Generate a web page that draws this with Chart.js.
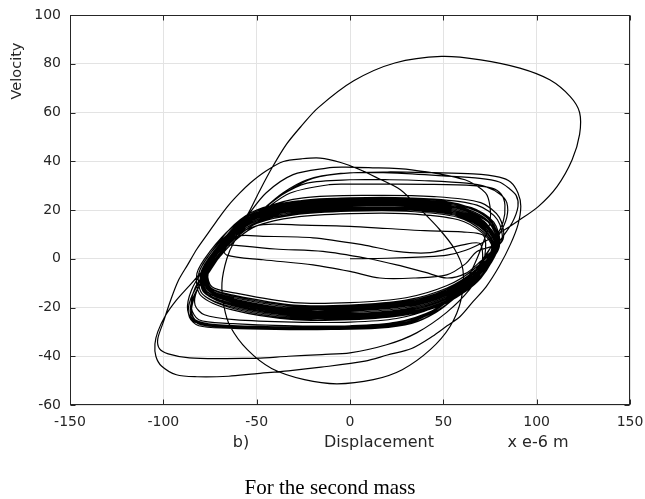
<!DOCTYPE html>
<html>
<head>
<meta charset="utf-8">
<script src="https://cdn.jsdelivr.net/npm/chart.js@4.4.1/dist/chart.umd.min.js"></script>
<style>
  html, body { margin: 0; padding: 0; background: #fff; }
  #wrap { width: 645px; height: 499px; }
</style>
</head>
<body>
<div id="wrap"><canvas id="c" width="645" height="499"></canvas></div>
<script>
// ---- axis ticks ----
const xTicks = [-150, -100, -50, 0, 50, 100, 150];
const yTicks = [-60, -40, -20, 0, 20, 40, 60, 80, 100];

// ---- texts ----
const yTitle = "Velocity";
const xTitleParts = ["b)", "Displacement", "x e-6 m"];
const caption = "For the second mass";

// ---- trajectory (displacement, velocity) ----
const startPath = [[0,0],[20,0.2],[40,0.8],[52,1.5],[62,3.5],[72,7],[82,11.5],[90,15.5]];

const bigLoop = [[101,21.5],[111,29.7],[119,40.6],[123,51],[123,60],[118,66.5],[107,73.4],[91,78.2],[70,81.6],
  [49,83],[24,80.3],[2,73],[-17,62],[-26,54.5],[-34,47],[-42,37],[-49,27],[-55,18],[-63,10],[-71,2],[-79,-5],
  [-86,-11],[-93,-17],[-99,-23.5],[-103,-30],[-104.5,-35],[-104,-40],[-101,-44],[-93,-47.6],[-82,-48.4],
  [-65,-48.2],[-51,-47.2],[-33,-46],[-15.5,-44.5],[8,-42],[20,-39.5],[33,-36.8],[44,-31.9],[52,-27.5],
  [59,-23.7],[66,-17.5],[73,-11.4],[80,-3]];

const loop35 = [[86,6],[90,14],[91.5,21.5],[90,27],[86,31.5],[80,33.5],[66,34.8],[45,35.3],[20,35.6],[-5,35],
  [-23,32.4],[-36,27],[-47,20],[-57,13],[-66,5],[-74,-3],[-81,-10],[-86,-18],[-86,-24],[-81,-27.5],[-65,-28.5],
  [-40,-29],[-10,-29],[15,-28.5],[33,-26.5],[46,-22],[56,-16],[64,-9],[71,-1]];

const loop30 = [[77,7],[82,15],[83,22],[81,26.5],[76,29],[66,30],[45,30.5],[20,30.6],[0,30.6],[-11,30.4],
  [-32,27],[-45,20.5],[-55,14],[-62,7],[-66,0],[-68.6,-10],[-67.5,-19.6]];

const circleLoop = [[-64,-28],[-55,-37.3],[-42,-45],[-24.4,-49.6],[-7,-51.3],[12.5,-49.6],[28,-45.5],[43,-37.3],
  [53.6,-27.8],[59.5,-16.8],[60.5,-4.5],[56,4],[48,12],[38,20],[27,28.3],[15,33],[5.4,36.5],[-5,39.5],
  [-16,41.3],[-26,41],[-35.7,39.9],[-45,36],[-53.6,31],[-59,27],[-65,22],[-70,17],[-76,10.5],[-82,4],
  [-87,-2.5],[-92,-9],[-96,-16.8],[-100,-26],[-103,-33],[-102,-37],[-97.4,-39],[-86,-40.7],[-68.6,-41],
  [-50,-40.8],[-33,-40],[-15,-39.3],[0,-38.6],[19.6,-35.3],[35.7,-30.4],[51.8,-22],[64,-12.7],[72,-3]];

const loop34 = [[80,7],[87,15],[90,21.5],[89,26],[85,29],[80,31.5],[69.6,33],[50,34],[21.4,35.2],[0,35.2],
  [-20,33],[-35,27],[-47,20],[-57,13],[-65,6],[-73,-2],[-80,-10],[-85,-18],[-85,-24],[-80,-27],[-65,-28],
  [-40,-28.5],[-10,-28.5],[15,-28],[33,-26],[46,-21],[56,-15],[63,-8],[68,0]];

const loop37 = [[72,8],[75,15],[75,21.5],[72.6,27],[61.6,32.4],[33,36.5],[10,37.4],[-4.5,37.6],[-12.5,37.2],
  [-30.5,34.5],[-45,27],[-55,17.5],[-63,9],[-71,1],[-78,-7],[-83,-15],[-85,-22],[-82,-26],[-70,-27.5],
  [-45,-28.2],[-15,-28.3],[15,-27.5],[35,-25],[48,-20],[58,-13],[66,-6],[73,2]];

const loop32 = [[80,10],[84,17],[84,23],[80.4,26.5],[73,29.5],[62.5,31],[40,32],[21.4,32.4],[0,32.4],[-23,31],
  [-38,25.5],[-50,18],[-59,11],[-67,4],[-75,-5],[-82,-13],[-85,-20],[-83,-25],[-72,-27],[-45,-27.8],
  [-15,-28],[15,-27],[35,-24.5],[48,-19.5],[58,-13],[66,-6],[73,1]];

const midLoopA = [[82,8],[80,17],[70,23],[45,25.5],[10,26],[-25,25],[-45,21],[-57,14],[-68,5],[-78,-4],
  [-85,-13],[-87,-21],[-83,-26],[-65,-27.5],[-30,-28.5],[0,-28.5],[25,-27],[45,-22],[58,-15],[70,-6]];
const midLoopB = [[81,7],[79,16],[68,22],[45,24.5],[10,25],[-25,24],[-45,20],[-57,13.5],[-67,5],[-76,-4],
  [-83,-12],[-85,-20],[-81,-25],[-65,-26.5],[-30,-27.5],[0,-27.5],[25,-26],[45,-21],[58,-14],[70,-5.5]];
const midLoopC = [[80,6],[77,15],[65,21],[40,24],[10,24.5],[-25,23.5],[-45,19.5],[-58,13],[-68,4],[-76,-5],
  [-82,-13],[-83,-19],[-78,-23],[-62,-25],[-30,-26],[0,-26],[25,-24.5],[45,-20],[60,-13],[70,-5]];

const innerLoopA = [[78,5],[73,13],[58,19],[30,21.5],[0,21.5],[-30,20],[-50,16.5],[-62,11],[-68,5],[-66,1.5],
  [-46.6,-0.4],[-19.8,-2.5],[0,-5.2],[16,-7.9],[34,-7.9],[51.8,-6.6],[62,-2],[68,3]];
const innerLoopB = [[70,6],[60.5,5.7],[43,2.5],[25,3],[7,5.7],[-19.8,8.6],[-46.6,9.2],[-60.7,9.2],[-70,3],
  [-77,-6],[-75,-13],[-62,-17],[-30,-21],[0,-21],[30,-19],[52,-14],[68,-6]];
const innerLoopC = [[72,9],[60,11],[40,11.5],[20,12.4],[0,13.3],[-25,13.8],[-46.6,14],[-58,11],[-66,6],
  [-61,5.5],[-40,4],[-14.5,3],[10,0],[25,-2.5],[40,-5.5],[51.8,-7.9],[62,-6],[70,-1]];

const bundle1 = [[80,5],[75,16],[58,22],[30,24.5],[0,24.5],[-30,23],[-50,19.5],[-63,13],[-75,3],[-82,-6],[-80,-15],[-63,-21],[-30,-25],[0,-25],[30,-23],[52,-18],[70,-8]];
const bundle2 = [[79,5.5],[74,15],[58,21],[30,23.5],[0,23.5],[-30,22],[-50,18.5],[-62,12.5],[-74,3],[-81,-6],[-79,-14.5],[-62,-20],[-30,-24],[0,-24],[30,-22],[52,-17],[69,-7.5]];
const bundle3 = [[80,6],[75,14.5],[58,20.5],[30,23],[0,23],[-30,21.5],[-50,18],[-62,12],[-73,3],[-80,-6.5],[-78,-14],[-62,-19.5],[-30,-23.5],[0,-23.5],[30,-21.5],[52,-16.5],[70,-7]];
const bundle4 = [[78,5],[73,14],[58,20],[30,22.5],[0,22.5],[-30,21],[-50,17.5],[-62,11.5],[-73,3],[-80,-6],[-78,-14],[-62,-19],[-30,-23],[0,-23],[30,-21],[52,-16],[68,-7]];
const bundle5 = [[79,5],[74,13.5],[58,19.5],[30,22],[0,22],[-30,20.5],[-50,17],[-62,11],[-72,3],[-79,-6],[-77,-13.5],[-62,-18],[-30,-22],[0,-22],[30,-20],[52,-15],[69,-6.5]];
const bundle6 = [[78,5],[73,13],[58,19],[30,21.5],[0,21.5],[-30,20],[-50,16.5],[-62,11],[-71,3],[-78,-6],[-76,-13],[-62,-17.5],[-30,-21.5],[0,-21.5],[30,-19.5],[52,-14.5],[68,-6]];
const bundle7 = [[77.5,5],[72.5,12.5],[58,18.5],[30,21],[0,21],[-30,19.5],[-50,16],[-61.5,10.5],[-70.5,3],[-77.5,-6],[-75.5,-13],[-62,-17],[-30,-21],[0,-21],[30,-19],[52,-14],[67.5,-6]];
const bundle8 = [[78,5.5],[73,13.5],[58,19.5],[30,22],[0,22],[-30,20.5],[-50,17],[-61,11],[-70,3],[-77,-5.5],[-75,-12.5],[-62,-16.5],[-30,-20.5],[0,-20.5],[30,-18.5],[52,-13.5],[68,-5.5]];
const bundle9 = [[77,5],[72,12],[58,18],[30,20.5],[0,20.5],[-30,19],[-50,15.5],[-61.5,10],[-70.5,2.5],[-77.5,-6],[-75.5,-12.5],[-62,-16],[-30,-20],[0,-20],[30,-18],[52,-13],[67,-5.5]];
const bundle10 = [[78.5,5],[73.5,13],[58,19],[30,21.5],[0,21.5],[-30,20],[-50,16.5],[-62,11],[-71,3],[-78,-6],[-76,-13],[-62,-17],[-30,-21],[0,-21],[30,-19],[52,-14],[68.5,-6]];
const bundle11 = [[77,4.5],[72,11.5],[58,17.5],[30,20],[0,20],[-30,18.5],[-50,15],[-61,9.5],[-70,2],[-77,-6],[-75,-12],[-62,-15.5],[-30,-19.5],[0,-19.5],[30,-17.5],[52,-12.5],[67,-5]];
const bundle12 = [[78,5],[73,13.5],[58,19.5],[30,22],[0,22],[-30,20.5],[-50,17],[-62,11.5],[-71.5,3],[-78.5,-6],[-76.5,-13.5],[-62,-17.5],[-30,-21.5],[0,-21.5],[30,-19.5],[52,-14.5],[68,-6.5]];
const bundle13 = [[78.5,5.5],[73.5,12.5],[58,18.5],[30,21],[0,21],[-30,19.5],[-50,16],[-62,10.5],[-71,2.5],[-78,-6],[-76,-12.5],[-62,-16.5],[-30,-20.5],[0,-20.5],[30,-18.5],[52,-13.5],[68.5,-5.5]];
const bundle14 = [[78.5,5],[73.5,14],[58,20],[30,22.5],[0,22.5],[-30,21],[-50,17.5],[-62,12],[-72,3],[-79,-6.5],[-77,-13.5],[-62,-18],[-30,-22],[0,-22],[30,-20],[52,-15],[68.5,-6.5]];
const bundle15 = [[79.5,5],[74.5,16],[58,22.5],[30,25],[0,25],[-30,23.5],[-50,20],[-62,14],[-74,3],[-81,-6],[-79,-14.5],[-62,-20.5],[-30,-24.5],[0,-24.5],[30,-22.5],[52,-17.5],[69.5,-8]];
const bundle16 = [[76,4.5],[71,10.5],[58,16],[30,18.5],[0,18.5],[-30,17],[-50,13.5],[-60,8.5],[-69,1.5],[-76,-6],[-74,-11.5],[-62,-14],[-30,-18],[0,-18],[30,-16],[52,-11],[66,-4.5]];
const bundle17 = [[79,5],[74,15.5],[58,21.5],[30,24],[0,24],[-30,22.5],[-50,19],[-62,13],[-72.5,3],[-79.5,-6],[-77.5,-14],[-62,-19],[-30,-23],[0,-23],[30,-21],[52,-16],[69,-7]];
const bundle18 = [[76.5,4.5],[71.5,11],[58,17],[30,19.5],[0,19.5],[-30,18],[-50,14.5],[-60.5,9],[-69.5,2],[-76.5,-6],[-74.5,-12],[-62,-15],[-30,-19],[0,-19],[30,-17],[52,-12],[66.5,-5]];
const bundle19 = [[78,5],[73,14.5],[58,20.5],[30,23],[0,23],[-30,21.5],[-50,18],[-62,12],[-72,3],[-79,-6],[-77,-14],[-62,-18.5],[-30,-22.5],[0,-22.5],[30,-20.5],[52,-15.5],[68,-7]];
const bundle20 = [[78,5],[73,12],[58,18],[30,20.5],[0,20.5],[-30,19],[-50,15.5],[-61.5,10],[-70.5,2.5],[-77.5,-6],[-75.5,-13],[-62,-17.5],[-30,-21.5],[0,-21.5],[30,-19.5],[52,-14.5],[68,-6]];
const bundle21 = [[78.5,5.5],[73.5,13.5],[58,19.5],[30,22],[0,22],[-30,20.5],[-50,17],[-62,11.5],[-71,3],[-78,-5.5],[-76,-12.5],[-62,-16],[-30,-20],[0,-20],[30,-18],[52,-13],[68.5,-5.5]];
const bundle22 = [[78,5],[73,13],[58,19],[30,21.5],[0,21.5],[-30,20],[-50,16.5],[-62,11],[-71,3],[-78,-6],[-76,-13],[-62,-17],[-30,-21],[0,-21],[30,-19],[52,-14],[68,-6],[78,5]];

const trajectory = [].concat(
  startPath, bigLoop, loop35, loop30, circleLoop, loop34, loop37, loop32,
  midLoopA, innerLoopA, midLoopB, bundle1, bundle2, innerLoopB, bundle15, bundle3, midLoopC,
  bundle4, bundle17, bundle5, innerLoopC, bundle6, bundle16, bundle7, bundle19, bundle8, bundle9,
  bundle18, bundle10, bundle11, bundle20, bundle12, bundle13, bundle21, bundle14, bundle22
);

const SANS = '"DejaVu Sans", "Liberation Sans", Arial, sans-serif';
const AXIS_COLOR = '#262626';

const decor = {
  id: 'decor',
  afterDraw(chart) {
    const { ctx, chartArea: a, scales: { x, y } } = chart;
    ctx.save();
    ctx.strokeStyle = AXIS_COLOR;
    ctx.lineWidth = 1;
    const L = Math.round(a.left) + 0.5, R = Math.round(a.right) - 0.5;
    const T = Math.round(a.top) + 0.5, B = Math.round(a.bottom) - 0.5;
    ctx.strokeRect(L, T, R - L, B - T);
    const tl = 5;
    ctx.beginPath();
    xTicks.forEach(v => {
      const px = Math.round(x.getPixelForValue(v)) + 0.5;
      ctx.moveTo(px, B); ctx.lineTo(px, B - tl);
      ctx.moveTo(px, T); ctx.lineTo(px, T + tl);
    });
    yTicks.forEach(v => {
      const py = Math.round(y.getPixelForValue(v)) + 0.5;
      ctx.moveTo(L, py); ctx.lineTo(L + tl, py);
      ctx.moveTo(R, py); ctx.lineTo(R - tl, py);
    });
    ctx.stroke();
    ctx.fillStyle = AXIS_COLOR;
    ctx.textAlign = 'center';
    ctx.textBaseline = 'middle';
    ctx.font = '16px ' + SANS;
    ctx.fillText(xTitleParts[0], 241, 443);
    ctx.fillText(xTitleParts[1], 379, 443);
    ctx.fillText(xTitleParts[2], 538, 443);
    ctx.save();
    ctx.translate(17, 71);
    ctx.rotate(-Math.PI / 2);
    ctx.font = '14.5px ' + SANS;
    ctx.fillText(yTitle, 0, 0);
    ctx.restore();
    ctx.fillStyle = '#000';
    ctx.font = '21px "Liberation Serif", "Times New Roman", serif';
    ctx.fillText(caption, 330, 488);
    ctx.restore();
  }
};

new Chart(document.getElementById('c'), {
  type: 'scatter',
  data: {
    datasets: [{
      data: trajectory.map(([dx, v]) => ({ x: dx, y: v })),
      showLine: true,
      borderColor: '#000',
      borderWidth: 1.2,
      pointRadius: 0,
      pointHoverRadius: 0,
      tension: 0.3,
      fill: false
    }]
  },
  options: {
    responsive: false,
    animation: false,
    devicePixelRatio: 1,
    layout: { padding: { top: 15, right: 15, left: 0, bottom: 0 } },
    plugins: { legend: { display: false }, tooltip: { enabled: false } },
    scales: {
      x: {
        type: 'linear',
        min: -150, max: 150,
        afterBuildTicks: s => { s.ticks = xTicks.map(v => ({ value: v })); },
        afterFit: s => { s.height = 94; s.paddingLeft = 0; s.paddingRight = 0; },
        ticks: { color: AXIS_COLOR, font: { family: SANS, size: 14 }, padding: 9, maxRotation: 0 },
        grid: { color: '#e3e3e3', lineWidth: 1, drawTicks: false },
        border: { display: false }
      },
      y: {
        type: 'linear',
        min: -60, max: 100,
        afterBuildTicks: s => { s.ticks = yTicks.map(v => ({ value: v })); },
        afterFit: s => { s.width = 70; s.paddingTop = 0; s.paddingBottom = 0; },
        ticks: { color: AXIS_COLOR, font: { family: SANS, size: 14 }, padding: 9 },
        grid: { color: '#e3e3e3', lineWidth: 1, drawTicks: false },
        border: { display: false }
      }
    }
  },
  plugins: [decor]
});
</script>
</body>
</html>
